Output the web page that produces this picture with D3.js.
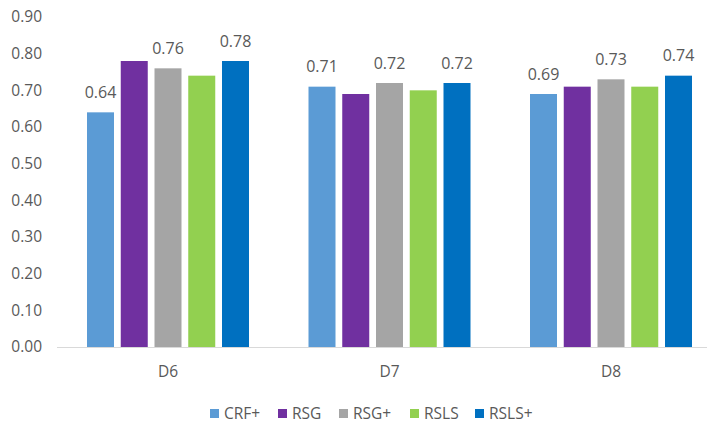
<!DOCTYPE html>
<html>
<head>
<meta charset="utf-8">
<script src="https://cdn.jsdelivr.net/npm/d3@7"></script>
<style>
  html, body { margin: 0; padding: 0; background: #fff; }
  svg { display: block; font-family: "Open Sans", "Segoe UI", sans-serif; }
</style>
</head>
<body>
<svg id="chart" width="707" height="422"></svg>
<script>
// Datasets and methods
const categories = ["D6", "D7", "D8"];
const seriesNames = ["CRF+", "RSG", "RSG+", "RSLS", "RSLS+"];
const seriesColors = ["#5B9BD5", "#7030A0", "#A5A5A5", "#92D050", "#0070C0"];
const valuesCRFplus  = [0.64, 0.71, 0.69];
const valuesRSG      = [0.78, 0.69, 0.71];
const valuesRSGplus  = [0.76, 0.72, 0.73];
const valuesRSLS     = [0.74, 0.70, 0.71];
const valuesRSLSplus = [0.78, 0.72, 0.74];
const yTicks = [0, 0.1, 0.2, 0.3, 0.4, 0.5, 0.6, 0.7, 0.8, 0.9];
// Series whose values are printed above the bars
const labelledSeries = ["CRF+", "RSG+", "RSLS+"];

const seriesValues = [valuesCRFplus, valuesRSG, valuesRSGplus, valuesRSLS, valuesRSLSplus];

const svg = d3.select("#chart");
const textColor = "#595959";

const x0 = d3.scaleBand().domain(categories).range([57.25, 721.75]).padding(0);
const groupInset = 29.75;
const x1 = d3.scaleBand().domain(seriesNames)
  .range([groupInset, x0.bandwidth() - groupInset])
  .paddingInner(0.2).paddingOuter(0);
const y = d3.scaleLinear().domain([0, 0.9]).range([347, 17]);

// Y axis tick labels (no axis line, no gridlines)
const yAxis = d3.axisLeft(y).tickValues(yTicks).tickFormat(d3.format(".2f")).tickSize(0).tickPadding(0);
const yg = svg.append("g").attr("transform", "translate(42,0)").call(yAxis);
yg.select(".domain").remove();
yg.selectAll("text").attr("fill", textColor).attr("font-size", 15.5)
  .attr("font-family", "'Open Sans', sans-serif");

// Bars
const groups = svg.append("g").selectAll("g").data(categories).join("g")
  .attr("transform", d => `translate(${x0(d)},0)`);

groups.each(function(cat, ci) {
  const g = d3.select(this);
  seriesNames.forEach((s, si) => {
    const v = seriesValues[si][ci];
    g.append("rect")
      .attr("x", x1(s))
      .attr("y", y(v))
      .attr("width", x1.bandwidth())
      .attr("height", y(0) - y(v))
      .attr("fill", seriesColors[si]);
    if (labelledSeries.includes(s)) {
      g.append("text")
        .attr("x", x1(s) + x1.bandwidth() / 2)
        .attr("y", y(v) - 14.5)
        .attr("text-anchor", "middle")
        .attr("fill", textColor)
        .attr("font-size", 16)
        .text(d3.format(".2f")(v));
    }
  });
});

// X axis baseline and category labels
svg.append("line").attr("x1", 57).attr("x2", 707).attr("y1", y(0) + 0.5).attr("y2", y(0) + 0.5)
  .attr("stroke", "#D9D9D9").attr("stroke-width", 1);
const xAxis = d3.axisBottom(x0).tickSize(0).tickPadding(0);
const xg = svg.append("g").attr("transform", `translate(0,${y(0)})`).call(xAxis);
xg.select(".domain").remove();
xg.selectAll("text").attr("fill", textColor).attr("font-size", 15.5)
  .attr("font-family", "'Open Sans', sans-serif").attr("dy", null).attr("y", 30);

// Legend
const legendX = [210, 278, 339, 410, 475];
const legend = svg.append("g");
seriesNames.forEach((s, i) => {
  legend.append("rect").attr("x", legendX[i]).attr("y", 409).attr("width", 9).attr("height", 9)
    .attr("fill", seriesColors[i]);
  legend.append("text").attr("x", legendX[i] + 14).attr("y", 418.5)
    .attr("fill", textColor).attr("font-size", 15.5).text(s);
});
</script>
</body>
</html>
